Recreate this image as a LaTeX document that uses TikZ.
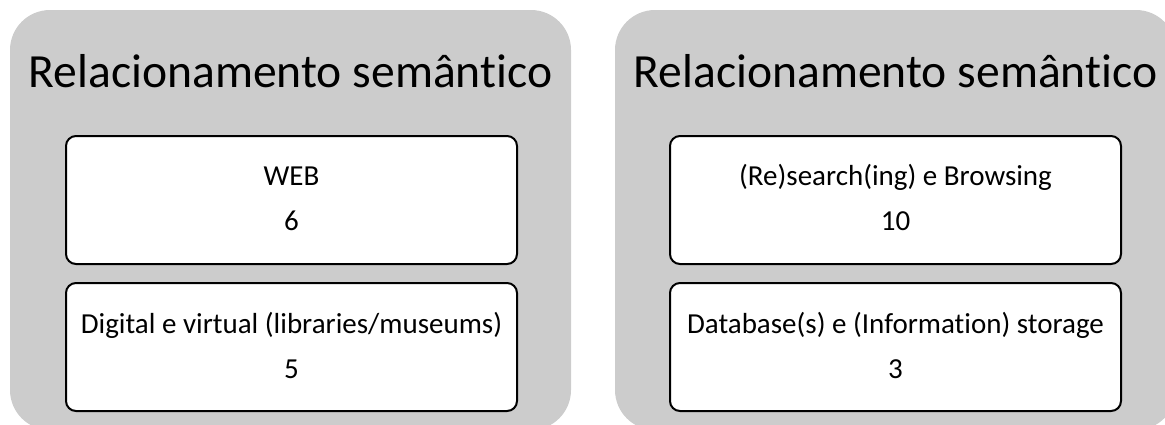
\documentclass[tikz,border=0pt]{standalone}
\usepackage{fontspec}
\setmainfont[Ligatures=NoCommon]{Carlito}
\begin{document}
\begin{tikzpicture}[x=1pt,y=-1pt,
  panel/.style={fill=panelgray, draw=none, rounded corners=40pt},
  itembox/.style={draw=black, line width=2pt, fill=white, rounded corners=10pt,
    minimum width=451pt, minimum height=128pt, inner sep=0pt},
  titletext/.style={font=\fontsize{47.6}{56}\selectfont, anchor=base, inner sep=0pt},
  itemtext/.style={font=\fontsize{29}{34}\selectfont, anchor=base, inner sep=0pt}]
\definecolor{panelgray}{RGB}{204,204,204}
\useasboundingbox (0,0) rectangle (1165,424);
\clip (0,0) rectangle (1165,424);

% two grey panels, both running past the lower (and right) edge
\fill[panel] (10,10) rectangle (571,430);
\fill[panel] (615,10) rectangle (1176,430);

% panel titles
\node[titletext] (t1) at (290.5,87) {Relacionamento semântico};
\node[titletext] (t2) at (895.5,87) {Relacionamento semântico};

% left panel items (label line above, count below)
\node[itembox] (a1) at (291.5,200) {};
\node[itembox] (a2) at (291.5,347) {};
\node[itemtext] (a1l) at ([yshift=15pt]a1.center) {WEB};
\node[itemtext] (a1n) at ([yshift=-30pt]a1.center) {6};
\node[itemtext] (a2l) at ([yshift=14pt]a2.center) {Digital e virtual (libraries/museums)};
\node[itemtext] (a2n) at ([yshift=-31pt]a2.center) {5};

% right panel items
\node[itembox] (b1) at (895.5,200) {};
\node[itembox] (b2) at (895.5,347) {};
\node[itemtext] (b1l) at ([yshift=15pt]b1.center) {(Re)search(ing) e Browsing};
\node[itemtext] (b1n) at ([yshift=-30pt]b1.center) {10};
\node[itemtext] (b2l) at ([yshift=14pt]b2.center) {Database(s) e (Information) storage};
\node[itemtext] (b2n) at ([yshift=-31pt]b2.center) {3};
\end{tikzpicture}
\end{document}
